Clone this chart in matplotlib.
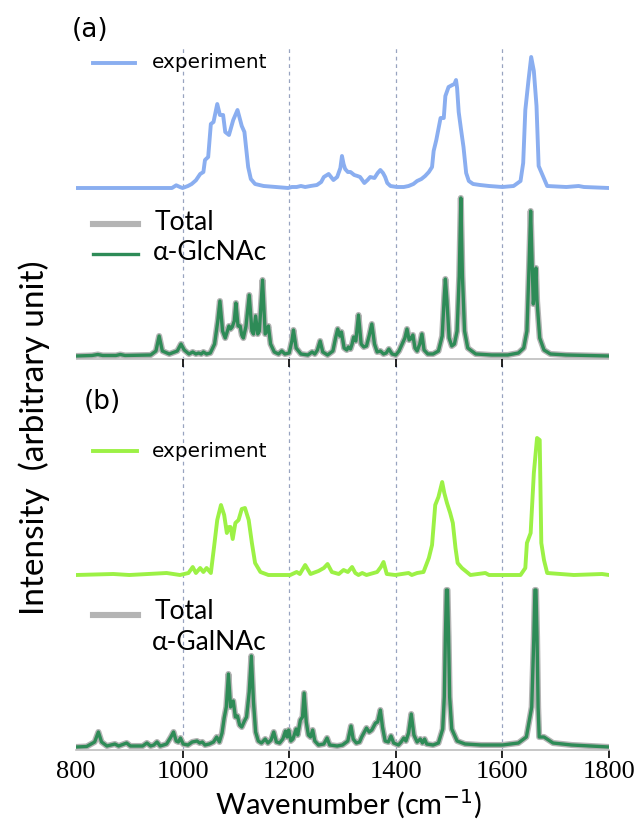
import numpy as np
import matplotlib
matplotlib.use("Agg")
import matplotlib.pyplot as plt
from matplotlib.lines import Line2D

# ---------------------------------------------------------------
# spectra (wavenumber cm-1, intensity arb. u.)
# ---------------------------------------------------------------
exp_a_wn = [800, 980, 988, 995, 1000, 1010, 1017, 1025, 1033, 1039, 1042, 1048, 1053, 1058,
            1065, 1070, 1076, 1080, 1087, 1095, 1103, 1111, 1116, 1119, 1123, 1128, 1136,
            1152, 1175, 1198, 1205, 1214, 1222, 1230, 1240, 1252, 1260, 1265, 1274, 1283,
            1290, 1296, 1299, 1302, 1305, 1310, 1315, 1322, 1328, 1333, 1341, 1347, 1352,
            1360, 1366, 1371, 1376, 1380, 1384, 1390, 1402, 1415, 1424, 1433, 1440, 1448,
            1455, 1462, 1468, 1471, 1476, 1480, 1484, 1490, 1493, 1499, 1506, 1510, 1513,
            1515, 1518, 1522, 1527, 1532, 1537, 1545, 1558, 1575, 1600, 1621, 1634, 1639,
            1643, 1649, 1654, 1659, 1664, 1668, 1676, 1684, 1720, 1743, 1753, 1800]
exp_a_int = [0, 0, 2.7, 1, 0, 2, 4, 7.7, 14, 16, 28, 31, 64, 66,
             84, 73, 73, 56, 53, 68, 78, 62, 56, 41, 21, 9, 4,
             2, 1, 0, 1, 1, 2, 1, 2, 3, 6, 11, 14, 8,
             11, 20, 32, 24, 19, 16, 16, 13, 12, 11, 5, 8, 11,
             10, 15, 18, 15, 11, 5, 2, 1, 1, 2, 4, 7, 9,
             12, 16, 21, 37, 48, 59, 70, 70, 92, 101, 103, 104, 108,
             100, 76, 60, 41, 15, 7, 4, 3, 2, 1, 2, 7, 25,
             78, 108, 131, 117, 82, 22, 12, 2, 1, 2, 1, 0]

calc_a_wn = [800, 830, 841, 850, 875, 883, 892, 940, 950, 956, 962, 975, 990, 997, 1003,
             1012, 1019, 1025, 1030, 1035, 1039, 1045, 1052, 1060, 1066, 1070, 1075, 1080,
             1087, 1090, 1093, 1097, 1100, 1104, 1108, 1111, 1114, 1119, 1125, 1130, 1133,
             1137, 1141, 1144, 1150, 1155, 1158, 1161, 1165, 1172, 1180, 1186, 1192, 1200,
             1205, 1208, 1213, 1222, 1235, 1243, 1248, 1253, 1258, 1263, 1272, 1282, 1287,
             1291, 1295, 1298, 1303, 1308, 1311, 1315, 1318, 1321, 1325, 1330, 1335, 1340,
             1345, 1350, 1355, 1360, 1365, 1371, 1377, 1382, 1387, 1393, 1400, 1406, 1412,
             1417, 1421, 1425, 1428, 1432, 1436, 1440, 1445, 1449, 1453, 1460, 1470, 1480,
             1487, 1491, 1493, 1496, 1500, 1505, 1510, 1515, 1519, 1522, 1525, 1529, 1535,
             1550, 1580, 1610, 1630, 1640, 1646, 1650, 1653, 1656, 1658, 1660, 1663, 1665,
             1670, 1678, 1690, 1720, 1800]
calc_a_int = [0, 0.5, 1.5, 0.5, 0.5, 1.5, 0.5, 1, 5, 20, 5, 2, 5, 12, 6,
              2, 4, 2, 3, 2, 4, 2, 3, 12, 35, 55, 25, 18,
              30, 27, 29, 35, 53, 30, 30, 21, 18, 30, 61, 25, 22,
              40, 22, 25, 76, 22, 25, 30, 12, 4, 2, 5, 2, 3,
              15, 26, 8, 2, 1, 4, 2, 6, 15, 4, 1, 5, 18,
              27, 20, 24, 8, 6, 9, 7, 12, 19, 15, 41, 12, 9,
              10, 20, 32, 12, 4, 5, 2, 3, 7, 2, 1, 5, 12,
              18, 27, 16, 17, 21, 8, 5, 12, 22, 6, 2, 2, 5,
              20, 60, 77, 55, 18, 10, 12, 25, 80, 158, 80, 25, 8,
              2, 1, 1, 3, 8, 25, 90, 145, 90, 52, 65, 88, 55,
              18, 6, 2, 1, 0]

exp_b_wn = [800, 870, 900, 970, 995, 1011, 1019, 1025, 1033, 1039, 1045, 1053, 1059, 1065,
            1072, 1078, 1083, 1087, 1090, 1094, 1099, 1105, 1111, 1117, 1124, 1130, 1136,
            1146, 1161, 1202, 1214, 1220, 1230, 1240, 1255, 1265, 1272, 1280, 1293, 1302,
            1310, 1318, 1324, 1330, 1337, 1345, 1365, 1372, 1377, 1383, 1399, 1424, 1430,
            1440, 1452, 1462, 1468, 1474, 1480, 1487, 1491, 1496, 1502, 1507, 1512, 1516,
            1524, 1540, 1568, 1575, 1634, 1643, 1646, 1653, 1659, 1665, 1670, 1673, 1678,
            1684, 1734, 1787, 1800]
exp_b_int = [0, 1, 0, 2, 0, 2, 8, 2, 7, 3, 7, 2, 28, 55,
             70, 60, 42, 48, 48, 36, 52, 55, 66, 67, 55, 32, 12,
             3, 0, 0, 3, 1, 10, 1, 4, 7, 11, 3, 1, 5,
             3, 8, 2, 0, 2, 0, 3, 8, 13, 1, 0, 2, 0,
             2, 3, 17, 30, 70, 78, 93, 82, 72, 62, 52, 27, 12,
             7, 0, 2, 0, 0, 7, 32, 42, 102, 137, 135, 32, 15,
             2, 0, 1, 0]

calc_b_wn = [800, 820, 835, 842, 848, 858, 873, 880, 895, 902, 925, 933, 940, 946, 952,
             958, 970, 978, 983, 988, 992, 996, 1001, 1010, 1018, 1027, 1032, 1037, 1042,
             1050, 1058, 1064, 1069, 1074, 1078, 1082, 1086, 1090, 1095, 1099, 1103, 1107,
             1111, 1116, 1120, 1125, 1129, 1133, 1137, 1142, 1148, 1155, 1160, 1166, 1171,
             1176, 1182, 1188, 1193, 1196, 1199, 1203, 1207, 1213, 1216, 1221, 1225, 1228,
             1232, 1236, 1240, 1244, 1248, 1255, 1265, 1271, 1276, 1290, 1300, 1310, 1316,
             1320, 1326, 1332, 1336, 1340, 1345, 1350, 1355, 1362, 1366, 1371, 1375, 1380,
             1386, 1391, 1396, 1405, 1410, 1415, 1419, 1424, 1429, 1434, 1440, 1446, 1450,
             1454, 1458, 1470, 1480, 1488, 1491, 1493, 1495, 1497, 1499, 1501, 1505, 1515,
             1530, 1560, 1600, 1630, 1645, 1655, 1659, 1661, 1663, 1665, 1667, 1669, 1678,
             1695, 1730, 1800]
calc_b_int = [0, 0.5, 5, 15, 5, 1, 3, 1, 4, 1, 1, 4, 1, 2, 5,
              1, 3, 10, 15, 6, 5, 9, 3, 2, 5, 6, 4, 5, 2,
              3, 5, 10, 5, 14, 29, 40, 73, 40, 46, 30, 31, 22,
              20, 26, 30, 55, 91, 45, 15, 6, 4, 8, 4, 7, 15,
              5, 4, 8, 16, 10, 17, 6, 8, 18, 12, 27, 30, 54,
              25, 12, 10, 17, 6, 2, 3, 9, 2, 1, 2, 6, 21,
              8, 4, 5, 10, 14, 19, 15, 17, 24, 25, 37, 20, 6,
              5, 11, 4, 2, 5, 9, 6, 14, 33, 12, 5, 8, 4,
              8, 3, 2, 4, 18, 50, 110, 157, 157, 110, 50, 18, 6,
              3, 2, 2, 4, 10, 40, 110, 157, 157, 110, 40, 10, 10,
              4, 2, 0]

# vertical offsets of the stacked traces (arb. units)
off_exp_a, off_calc_a, off_exp_b, off_calc_b = 562, 394, 175, 3
guide_wn = [1000, 1200, 1400, 1600]
xticks = [800, 1000, 1200, 1400, 1600, 1800]

c_exp_a = '#8aaef0'
c_exp_b = '#9cf145'
c_calc = '#2e8b57'
c_total = '#b4b4b4'
c_guide = '#98a4c0'

W, H = 641, 822
fig = plt.figure(figsize=(W / 100, H / 100), dpi=100)
ax = fig.add_axes([76 / W, 1 - 750 / H, (609 - 76) / W, 710 / H])
ax.set_xlim(800, 1800)
ax.set_ylim(0, 710)


def fx(px):
    return px / W


def fy(py):
    return 1 - py / H


ax.vlines(guide_wn, 0, 705, colors=c_guide, linestyles=(0, (3, 3)), lw=0.9, zorder=0)

ax.plot(exp_a_wn, np.array(exp_a_int) + off_exp_a, color=c_exp_a, lw=2.8)
ax.plot(calc_a_wn, np.array(calc_a_int) + off_calc_a, color=c_total, lw=4.4)
ax.plot(calc_a_wn, np.array(calc_a_int) + off_calc_a, color=c_calc, lw=2.4)
ax.plot(exp_b_wn, np.array(exp_b_int) + off_exp_b, color=c_exp_b, lw=2.8)
ax.plot(calc_b_wn, np.array(calc_b_int) + off_calc_b, color=c_total, lw=4.4)
ax.plot(calc_b_wn, np.array(calc_b_int) + off_calc_b, color=c_calc, lw=2.4)

# baseline + ticks of panel (a)
ax.axhline(391, color='#bdbdbd', lw=1.2, zorder=0.5)
ax.plot(guide_wn, [391] * len(guide_wn), ls='none', marker=3, ms=6, mew=1.2, color='k')

for s in ['left', 'right', 'top']:
    ax.spines[s].set_visible(False)
ax.spines['bottom'].set_color('#bdbdbd')
ax.spines['bottom'].set_linewidth(1.2)
ax.set_yticks([])
ax.set_xticks(xticks)
ax.tick_params(axis='x', length=6, width=1.2, color='k', pad=2)
ax.xaxis.get_major_ticks()[0].tick1line.set_visible(False)
for lab in ax.get_xticklabels():
    lab.set_fontfamily('Liberation Serif')
    lab.set_fontsize(19)

sans = ['Lato', 'DejaVu Sans']

# panel labels / legends
fig.text(fx(90), fy(30), '(a)', fontsize=19, ha='center', va='center')
fig.text(fx(102), fy(402), '(b)', fontsize=19, ha='center', va='center')

fig.add_artist(Line2D([fx(93), fx(135)], [fy(63), fy(63)], color=c_exp_a, lw=2.8))
fig.text(fx(152), fy(63), 'experiment', fontsize=14.4, va='center')
fig.add_artist(Line2D([fx(93), fx(137)], [fy(451), fy(451)], color=c_exp_b, lw=2.8))
fig.text(fx(152), fy(451), 'experiment', fontsize=14.4, va='center')

fig.add_artist(Line2D([fx(93), fx(138)], [fy(224), fy(224)], color=c_total, lw=4.4))
fig.text(fx(155), fy(222), 'Total', fontsize=19, family=sans, va='center')
fig.add_artist(Line2D([fx(93), fx(138)], [fy(254), fy(254)], color=c_calc, lw=2.4))
fig.text(fx(153), fy(252), 'α-GlcNAc', fontsize=19, family=sans, va='center')

fig.add_artist(Line2D([fx(93), fx(138)], [fy(615), fy(615)], color=c_total, lw=4.4))
fig.text(fx(155), fy(611), 'Total', fontsize=19, family=sans, va='center')
fig.text(fx(152), fy(642), 'α-GalNAc', fontsize=19, family=sans, va='center')

fig.text(fx(34), fy(438), 'Intensity  (arbitrary unit)', fontsize=24, family=sans,
         rotation=90, ha='center', va='center')
fig.text(fx(348), fy(804), 'Wavenumber (cm$^{-1}$)', fontsize=21, family=sans,
         ha='center', va='center')

fig.savefig('out.png', dpi=100)
